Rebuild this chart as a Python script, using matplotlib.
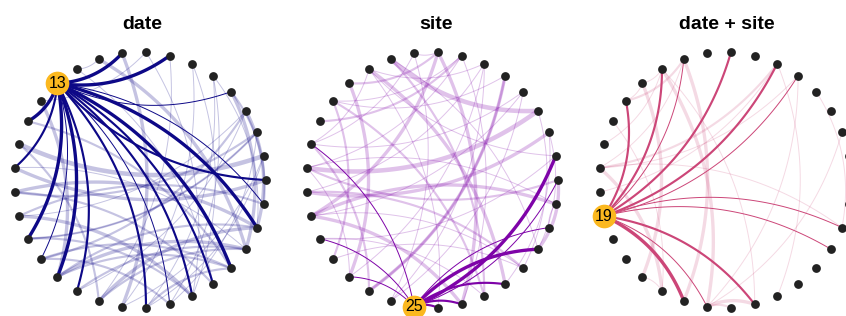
import numpy as np
import matplotlib
matplotlib.use("Agg")
import matplotlib.pyplot as plt

plt.rcParams['font.family'] = ['Liberation Sans', 'DejaVu Sans']

N_NODES = 33
titles = ["date", "site", "date + site"]
edge_colors = ["#0D0887", "#7E03A8", "#CC4678"]
light_alpha = [0.24, 0.24, 0.2]
hubs = [13, 25, 19]

# edges from the highlighted node: target node, weight
date_hub_to = [10, 8, 5, 1, 33, 32, 30, 29, 28, 27, 26, 23, 22, 21, 20, 17, 15]
date_hub_w = [3, 3, 1, 2, 1, 3, 3, 2, 2, 1, 2, 2, 3, 1, 3, 2, 3]
site_hub_to = [16, 20, 22, 26, 27, 29, 31, 32, 1, 2]
site_hub_w = [1, 1, 1, 2, 2, 2, 3, 1, 1, 3]
both_hub_to = [14, 12, 11, 9, 7, 6, 32, 31, 27, 25, 24]
both_hub_w = [2, 2, 1, 2, 2, 1, 1, 1, 2, 1, 3]

# the other edges: (from, to, weight)
date_edges = [(16, 2, 4), (17, 1, 3), (18, 32, 3), (19, 28, 3), (22, 31, 3), (22, 32, 2),
              (22, 30, 2), (24, 32, 3), (24, 31, 2), (11, 31, 3), (10, 25, 3), (12, 11, 1),
              (8, 24, 1), (7, 25, 1), (6, 32, 1), (5, 31, 3), (4, 32, 3), (5, 33, 2),
              (4, 19, 1), (4, 21, 2), (3, 18, 2), (3, 20, 2), (14, 22, 3), (21, 27, 2),
              (20, 28, 2), (23, 31, 2), (19, 33, 2), (26, 30, 2), (25, 2, 1), (27, 3, 1),
              (9, 28, 1), (12, 29, 1), (15, 30, 2), (18, 29, 2), (20, 3, 1), (23, 4, 1),
              (26, 6, 1), (28, 7, 1), (21, 30, 2), (17, 31, 1), (14, 9, 1), (16, 24, 2),
              (6, 27, 1), (2, 26, 1)]
site_edges = [(11, 4, 4), (11, 31, 1), (12, 2, 1), (12, 29, 3), (10, 24, 1), (9, 27, 3),
              (9, 19, 3), (8, 17, 1), (8, 14, 1), (7, 18, 1), (7, 22, 1), (6, 23, 3),
              (5, 16, 1), (17, 4, 4), (18, 3, 3), (17, 1, 2), (19, 27, 3), (19, 33, 3),
              (19, 5, 1), (19, 30, 1), (13, 22, 3), (14, 21, 2), (1, 31, 3), (32, 33, 1),
              (3, 31, 1), (23, 6, 2), (24, 5, 1), (24, 7, 1), (28, 14, 2), (21, 30, 1),
              (15, 8, 2), (16, 10, 1), (12, 16, 1), (13, 9, 2), (14, 6, 1), (20, 2, 1),
              (17, 33, 1), (18, 30, 2), (11, 28, 2), (10, 9, 1), (26, 12, 1), (27, 8, 1),
              (29, 3, 1), (22, 17, 1), (23, 16, 2), (20, 28, 1), (12, 7, 1), (4, 30, 1)]
both_edges = [(17, 7, 2), (17, 6, 1), (17, 11, 1), (17, 32, 1), (14, 13, 1), (13, 22, 3),
              (12, 25, 3), (11, 24, 3), (17, 23, 3), (7, 28, 1), (6, 25, 1), (5, 32, 1),
              (3, 25, 1), (25, 27, 3), (25, 26, 2), (22, 23, 1), (15, 23, 1), (14, 11, 2),
              (27, 12, 1), (16, 12, 1), (18, 7, 1), (13, 12, 1)]

hub_to = [date_hub_to, site_hub_to, both_hub_to]
hub_w = [date_hub_w, site_hub_w, both_hub_w]
other_edges = [date_edges, site_edges, both_edges]

panel_cx = [140, 432, 725]   # pixel centres
title_x = [142, 436, 727]
W, H = 846, 316
RX, RY, CY = 126, 128, 180

ang = np.arange(N_NODES) * 2 * np.pi / N_NODES
node_xy = np.column_stack([np.cos(ang), np.sin(ang)])


def arc(a, b, bend=0.1, n=60):
    a, b = sorted((a, b))
    p0, p1 = node_xy[a - 1], node_xy[b - 1]
    d = p1 - p0
    L = np.hypot(*d)
    nrm = np.array([-d[1], d[0]]) / L
    ctrl = (p0 + p1) / 2 + nrm * 2 * bend * L
    t = np.linspace(0, 1, n)[:, None]
    return (1 - t) ** 2 * p0 + 2 * (1 - t) * t * ctrl + t ** 2 * p1


def lw(w):
    return 0.85 * w - 0.15


fig = plt.figure(figsize=(W / 100, H / 100), dpi=100)

for i in range(3):
    cx = panel_cx[i]
    ax = fig.add_axes([(cx - 141) / W, 0, 282 / W, 1])
    ax.set_xlim(-141 / RX, 141 / RX)
    ax.set_ylim(-(H - CY) / RY, CY / RY)
    ax.axis("off")
    col = edge_colors[i]

    for a, b, w in other_edges[i]:
        pts = arc(a, b)
        ax.plot(pts[:, 0], pts[:, 1], color=col, alpha=light_alpha[i], lw=lw(w),
                solid_capstyle="butt", clip_on=False)
    for b, w in zip(hub_to[i], hub_w[i]):
        pts = arc(hubs[i], b)
        ax.plot(pts[:, 0], pts[:, 1], color=col, lw=lw(w),
                solid_capstyle="butt", clip_on=False)

    ax.scatter(node_xy[:, 0], node_xy[:, 1], s=40, color="#222222", zorder=5,
               clip_on=False, linewidths=0)
    hx, hy = node_xy[hubs[i] - 1]
    ax.scatter([hx], [hy], s=290, color="#FBB81F", zorder=6, clip_on=False,
               linewidths=0)
    ax.text(hx, hy, str(hubs[i]), ha="center", va="center", fontsize=11.5,
            color="black", zorder=7, clip_on=False)

    fig.text(title_x[i] / W, 1 - 29 / H, titles[i], ha="center", va="baseline",
             fontsize=14, fontweight="bold")

fig.savefig("out.png", dpi=100)
